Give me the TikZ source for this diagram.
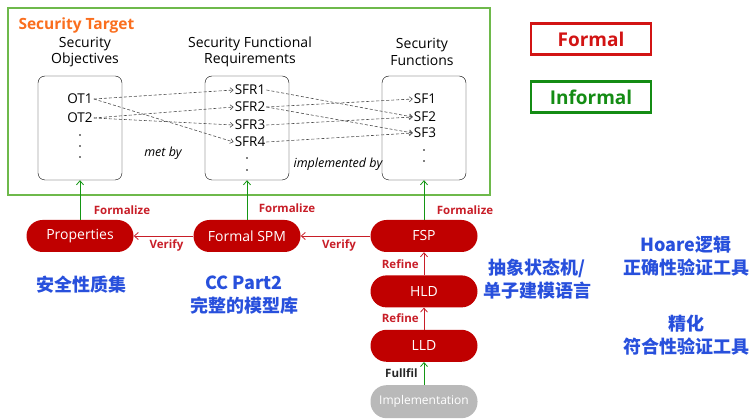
\documentclass[tikz,border=0pt]{standalone}
\usepackage{fontspec}
\setmainfont{Open Sans}
\newfontfamily\cjk{Noto Sans CJK SC}
\usetikzlibrary{positioning, arrows.meta}
\definecolor{pillred}{RGB}{192,0,0}
\definecolor{labred}{RGB}{200,30,40}
\definecolor{stgreen}{RGB}{110,185,75}
\definecolor{arrgreen}{RGB}{20,150,20}
\definecolor{cnblue}{RGB}{40,80,220}
\definecolor{sttitle}{RGB}{250,110,30}
\definecolor{legred}{RGB}{210,20,20}
\definecolor{leggreen}{RGB}{20,140,20}

\begin{document}
\begin{tikzpicture}[
  x=1pt, y=-1pt,
  font=\fontsize{12}{14}\selectfont,
  head/.style={align=center, font=\fontsize{14}{16.5}\selectfont, inner sep=0pt},
  col/.style={draw, rounded corners=7pt, minimum width=84pt, minimum height=104pt},
  item/.style={inner sep=1pt, font=\fontsize{13.5}{14}\selectfont},
  pill/.style={fill=pillred, text=white, rounded corners=16pt, minimum width=107pt, minimum height=32pt, font=\fontsize{14}{16}\selectfont},
  impl/.style={pill, fill=gray!55, minimum height=33pt, font=\fontsize{12}{14}\selectfont},
  maps/.style={-{Straight Barb[length=3pt,width=5pt]}, densely dashed, gray!60!black, semithick},
  form/.style={-{Straight Barb[length=4pt,width=7pt]}, arrgreen, thick},
  refine/.style={-{Straight Barb[length=4pt,width=7pt]}, labred, thick},
  act/.style={font=\bfseries\fontsize{11.5}{13}\selectfont, text=labred, inner sep=1pt},
  note/.style={font=\cjk\bfseries\fontsize{18}{23}\selectfont, text=cnblue, align=center},
  legend/.style={draw, line width=2.5pt, minimum width=120pt, minimum height=31pt, font=\bfseries\fontsize{19}{21}\selectfont}
]
\useasboundingbox (0,0) rectangle (756,419);
% --- security target ---
\node[draw=stgreen, line width=2.5pt, minimum width=482pt, minimum height=187pt] (st) at (249,101.5) {};
\node[font=\bfseries\fontsize{15.5}{17}\selectfont, text=sttitle, anchor=west] (sttl) at (15,25) {Security Target};
\node[head] (h1) at (85,52) {Security\\Objectives};
\node[head] (h2) at (250,52) {Security Functional\\Requirements};
\node[head] (h3) at (422,52) {Security\\Functions};
\node[col] (c1) at (80,128) {};
\node[col] (c2) at (247,128) {};
\node[col] (c3) at (424,128) {};
\node[item] (ot1) at (80,99) {OT1};
\node[item] (ot2) at (80,118) {OT2};
\node[item] (sfr1) at (250,90) {SFR1};
\node[item] (sfr2) at (250,107) {SFR2};
\node[item] (sfr3) at (250,125) {SFR3};
\node[item] (sfr4) at (250,142) {SFR4};
\node[item] (sf1) at (425,99) {SF1};
\node[item] (sf2) at (425,117) {SF2};
\node[item] (sf3) at (425,133) {SF3};
\foreach \y in {135,146,157} \fill (80,\y) circle (0.8pt);
\foreach \y in {158,170} \fill (247,\y) circle (0.8pt);
\foreach \y in {150,161} \fill (424,\y) circle (0.8pt);
\foreach \a/\b in {ot1/sfr1, ot1/sfr4, ot2/sfr2, ot2/sfr3,
                   sfr1/sf2, sfr2/sf1, sfr2/sf3, sfr3/sf2, sfr4/sf3}
  \draw[maps] (\a.east) -- (\b.west);
\node[font=\itshape\fontsize{12.5}{14}\selectfont] (metby) at (163,153) {met by};
\node[font=\itshape\fontsize{12.5}{14}\selectfont] (implby) at (338,164) {implemented by};
% --- formal models ---
\node[pill] (prop) at (80,236) {Properties};
\node[pill] (spm) at (247,236) {Formal SPM};
\node[pill] (fsp) at (424,236) {FSP};
\node[pill, below=23pt of fsp] (hld) {HLD};
\node[pill, below=22pt of hld] (lld) {LLD};
\node[impl, below=23pt of lld] (imp) {Implementation};
\draw[form] (prop) -- (c1);
\draw[form] (spm) -- (c2);
\draw[form] (fsp) -- (c3);
\node[act] (f1) at (122,210) {Formalize};
\node[act] (f2) at (287,208) {Formalize};
\node[act] (f3) at (465,210) {Formalize};
\draw[refine] (spm) -- (prop) node[act, pos=0.45, below=2pt] {Verify};
\draw[refine] (fsp) -- (spm) node[act, pos=0.45, below=2pt] {Verify};
\draw[refine] (hld) -- (fsp) node[act, midway, left=4pt] {Refine};
\draw[refine] (lld) -- (hld) node[act, midway, left=4pt] {Refine};
\draw[form] (imp) -- (lld) node[act, midway, left=5pt, text=gray!30!black] {Fullfil};
% --- notes ---
\node[note] (n1) at (81,285) {安全性质集};
\node[note] (n2) at (244,295) {CC Part2\\完整的模型库};
\node[note] (n3) at (537,279) {抽象状态机/\\单子建模语言};
\node[note] (n4) at (686,256) {Hoare逻辑\\正确性验证工具};
\node[note] (n5) at (686,335) {精化\\符合性验证工具};
% --- legend ---
\node[legend, draw=legred, text=legred] (lgf) at (591,39) {Formal};
\node[legend, draw=leggreen, text=leggreen] (lgi) at (591,97) {Informal};
\end{tikzpicture}
\end{document}
